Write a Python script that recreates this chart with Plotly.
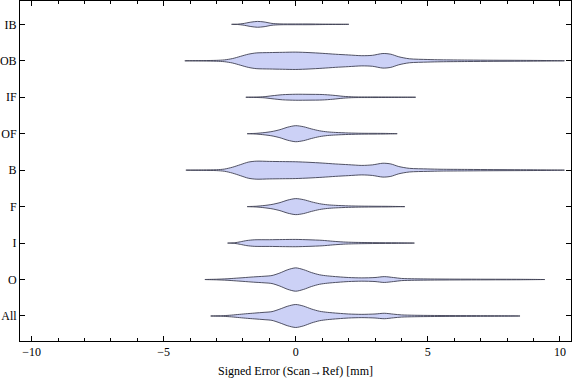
import plotly.graph_objects as go

# Categories, bottom to top
CATEGORIES = ["All", "O", "I", "F", "B", "OF", "IF", "OB", "IB"]

# Density profiles: x position [mm] and half-width (category units)
ALL_X = [-3.22, -2.8, -2.5, -2.2, -1.9, -1.55, -1.2, -0.9, -0.6, -0.3, 0.0, 0.3, 0.6, 0.9, 1.2, 1.6, 2.0, 2.5, 3.0, 3.35, 3.7, 4.0, 4.5, 5.5, 7.0, 8.0, 8.49]
ALL_W = [0.0, 0.008, 0.02, 0.04, 0.06, 0.08, 0.1, 0.12, 0.19, 0.27, 0.315, 0.27, 0.19, 0.13, 0.1, 0.075, 0.055, 0.045, 0.055, 0.075, 0.05, 0.03, 0.02, 0.013, 0.009, 0.006, 0.0]

O_X = [-3.44, -3.0, -2.6, -2.3, -2.0, -1.6, -1.2, -0.9, -0.6, -0.3, 0.0, 0.3, 0.6, 0.9, 1.2, 1.6, 2.0, 2.5, 3.0, 3.35, 3.7, 4.0, 4.5, 5.5, 7.0, 8.5, 9.43]
O_W = [0.0, 0.008, 0.02, 0.035, 0.05, 0.072, 0.09, 0.11, 0.18, 0.27, 0.32, 0.27, 0.19, 0.13, 0.1, 0.075, 0.055, 0.045, 0.055, 0.08, 0.055, 0.03, 0.02, 0.013, 0.009, 0.006, 0.0]

I_X = [-2.58, -2.3, -2.1, -1.85, -1.55, -1.0, -0.5, 0.0, 0.5, 1.0, 1.4, 1.8, 2.2, 3.0, 3.8, 4.49]
I_W = [0.0, 0.01, 0.035, 0.07, 0.09, 0.092, 0.097, 0.1, 0.09, 0.075, 0.05, 0.03, 0.02, 0.012, 0.008, 0.0]

F_X = [-1.84, -1.5, -1.2, -0.9, -0.6, -0.3, 0.0, 0.3, 0.6, 0.9, 1.2, 1.5, 2.0, 2.5, 3.0, 3.5, 4.13]
F_W = [0.0, 0.01, 0.03, 0.06, 0.11, 0.18, 0.22, 0.19, 0.13, 0.08, 0.05, 0.035, 0.02, 0.013, 0.01, 0.008, 0.0]

B_X = [-4.16, -3.5, -3.0, -2.7, -2.4, -2.1, -1.8, -1.5, -1.0, -0.5, 0.0, 0.5, 1.0, 1.5, 2.0, 2.5, 2.9, 3.3, 3.6, 3.9, 4.3, 5.0, 5.5, 6.5, 7.5, 8.5, 9.5, 10.17]
B_W = [0.0, 0.006, 0.012, 0.03, 0.08, 0.15, 0.22, 0.247, 0.24, 0.235, 0.23, 0.215, 0.195, 0.17, 0.15, 0.13, 0.145, 0.19, 0.17, 0.1, 0.05, 0.033, 0.025, 0.02, 0.015, 0.012, 0.007, 0.0]

OF_X = [-1.84, -1.5, -1.2, -0.9, -0.6, -0.3, 0.0, 0.3, 0.6, 0.9, 1.2, 1.5, 2.0, 2.5, 3.0, 3.4, 3.84]
OF_W = [0.0, 0.01, 0.03, 0.06, 0.11, 0.18, 0.22, 0.19, 0.13, 0.08, 0.05, 0.035, 0.02, 0.012, 0.01, 0.008, 0.0]

IF_X = [-1.89, -1.5, -1.2, -0.9, -0.5, 0.0, 0.5, 1.0, 1.4, 1.8, 2.2, 3.0, 3.5, 4.0, 4.54]
IF_W = [0.0, 0.006, 0.015, 0.04, 0.07, 0.082, 0.08, 0.075, 0.055, 0.025, 0.01, 0.008, 0.006, 0.004, 0.0]

OB_X = [-4.2, -3.5, -3.0, -2.7, -2.4, -2.1, -1.8, -1.5, -1.0, -0.5, 0.0, 0.5, 1.0, 1.5, 2.0, 2.5, 2.9, 3.3, 3.6, 3.9, 4.3, 5.0, 5.5, 6.5, 7.5, 8.5, 9.5, 10.17]
OB_W = [0.0, 0.006, 0.012, 0.025, 0.06, 0.12, 0.18, 0.215, 0.225, 0.232, 0.238, 0.225, 0.205, 0.18, 0.16, 0.14, 0.15, 0.2, 0.18, 0.11, 0.055, 0.035, 0.027, 0.02, 0.015, 0.012, 0.007, 0.0]

IB_X = [-2.43, -2.2, -2.0, -1.7, -1.45, -1.2, -0.9, -0.6, 0.0, 0.5, 1.0, 1.5, 2.01]
IB_W = [0.0, 0.005, 0.02, 0.06, 0.08, 0.065, 0.025, 0.012, 0.01, 0.01, 0.006, 0.004, 0.0]

X_TICKS = [-10, -5, 0, 5, 10]
X_TICK_TEXT = ["\u221210", "\u22125", "0", "5", "10"]
X_TITLE = "Signed Error (Scan\u2192Ref) [mm]"

PROFILES = [
    (ALL_X, ALL_W), (O_X, O_W), (I_X, I_W), (F_X, F_W), (B_X, B_W),
    (OF_X, OF_W), (IF_X, IF_W), (OB_X, OB_W), (IB_X, IB_W),
]

FILL = "rgb(204,209,246)"
EDGE = "rgb(62,64,82)"
FONT = "Liberation Serif"

fig = go.Figure()
for i, (xs, ws) in enumerate(PROFILES):
    pos = i + 1
    px = list(xs) + list(reversed(xs))
    py = [pos + w for w in ws] + [pos - w for w in reversed(ws)]
    fig.add_trace(go.Scatter(
        x=px, y=py, mode="lines", fill="toself", fillcolor=FILL,
        line=dict(color=EDGE, width=0.9, shape="spline", smoothing=0.8),
        hoverinfo="skip", showlegend=False,
    ))

fig.update_layout(
    width=576, height=381,
    margin=dict(l=20, r=5, t=1, b=40),
    paper_bgcolor="white", plot_bgcolor="white",
    font=dict(family=FONT, size=12, color="black"),
    showlegend=False,
)
fig.update_xaxes(
    range=[-10.44, 10.42], automargin=False,
    tickvals=X_TICKS, ticktext=X_TICK_TEXT,
    ticks="inside", ticklen=5, tickwidth=1, tickcolor="black",
    minor=dict(dtick=1, tick0=0, ticks="inside", ticklen=3, tickcolor="black", showgrid=False),
    showline=True, linecolor="black", linewidth=1, mirror="ticks",
    showgrid=False, zeroline=False,
    title=dict(text=X_TITLE, font=dict(family=FONT, size=12), standoff=8),
    tickfont=dict(family=FONT, size=12),
)
fig.update_yaxes(
    range=[0.314, 9.64], automargin=False,
    tickvals=list(range(1, len(CATEGORIES) + 1)), ticktext=CATEGORIES,
    ticks="inside", ticklen=5, tickwidth=1, tickcolor="black",
    showline=True, linecolor="black", linewidth=1, mirror="ticks",
    showgrid=False, zeroline=False,
    tickfont=dict(family=FONT, size=12),
)

fig.write_html(
    "out.html",
    config={"displayModeBar": False, "staticPlot": True},
    post_script="document.body.style.margin='0px';",
)
